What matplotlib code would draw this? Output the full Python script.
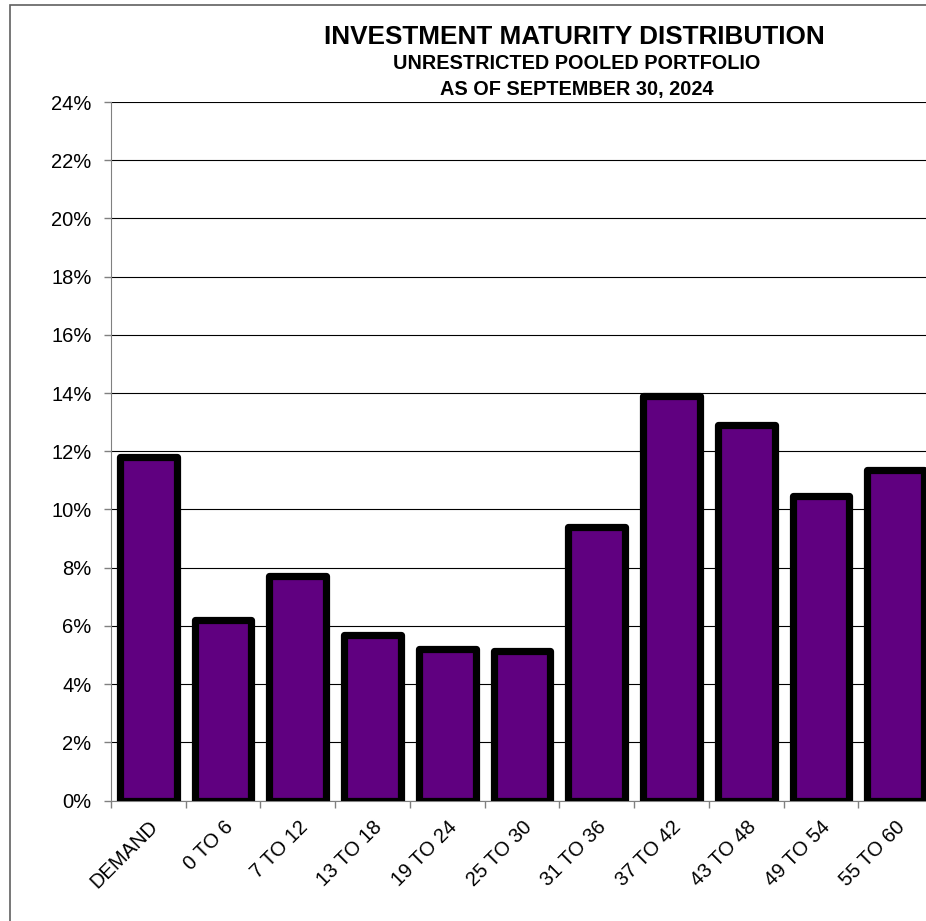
import matplotlib
matplotlib.use("Agg")
import matplotlib.pyplot as plt
import matplotlib.patches as patches
import numpy as np

# data
categories = ["DEMAND", "0 TO 6", "7 TO 12", "13 TO 18", "19 TO 24", "25 TO 30",
              "31 TO 36", "37 TO 42", "43 TO 48", "49 TO 54", "55 TO 60"]
values = [11.8, 6.2, 7.7, 5.7, 5.2, 5.15, 9.4, 13.9, 12.9, 10.45, 11.35]
yticks = list(range(0, 25, 2))

plt.rcParams["font.family"] = ["Liberation Sans", "DejaVu Sans"]

W, H = 926, 921
fig = plt.figure(figsize=(W / 100, H / 100), dpi=100)

# outer chart frame (partly cut off on the right and bottom, as in the original)
frame = patches.Rectangle((10 / W, -0.1), 1.2, 1.1 - 5 / H, transform=fig.transFigure,
                          fill=False, ec="#606060", lw=1.2)
fig.patches.append(frame)

left, right = 111, 933
bottom, top = 800.5, 102
ax = fig.add_axes([left / W, 1 - bottom / H, (right - left) / W, (bottom - top) / H])

x = np.arange(len(categories))
ax.bar(x, values, width=0.76, color="#600080", edgecolor="black", linewidth=5.2,
       joinstyle="round", zorder=3)

ax.set_xlim(-0.5, len(categories) - 0.5)
ax.set_ylim(0, 24)
ax.set_yticks(yticks)
ax.set_yticklabels([f"{t}%" for t in yticks], fontsize=14.5)
ax.yaxis.grid(True, color="black", lw=0.8, zorder=0)

ax.set_xticks(x)
ax.set_xticklabels(categories, fontsize=14.5, rotation=45, ha="right", va="top",
                   rotation_mode="anchor")
ax.set_xticks(np.arange(len(categories) + 1) - 0.5, minor=True)
ax.tick_params(axis="x", which="major", length=0, pad=12)
ax.tick_params(axis="x", which="minor", length=5, color="#808080", width=1)
ax.tick_params(axis="y", length=5, color="#808080", width=1, pad=9)

for s in ["top", "right"]:
    ax.spines[s].set_visible(False)
ax.spines["left"].set_color("#808080")
ax.spines["bottom"].set_color("#808080")

fig.text(574 / W, 1 - 37.5 / H, "INVESTMENT MATURITY DISTRIBUTION", ha="center",
         va="center", fontsize=18.8, fontweight="bold")
fig.text(577 / W, 1 - 63.5 / H, "UNRESTRICTED POOLED PORTFOLIO", ha="center",
         va="center", fontsize=14.3, fontweight="bold")
fig.text(577 / W, 1 - 89 / H, "AS OF SEPTEMBER 30, 2024", ha="center",
         va="center", fontsize=14.3, fontweight="bold")

fig.savefig("out.png", dpi=100)
